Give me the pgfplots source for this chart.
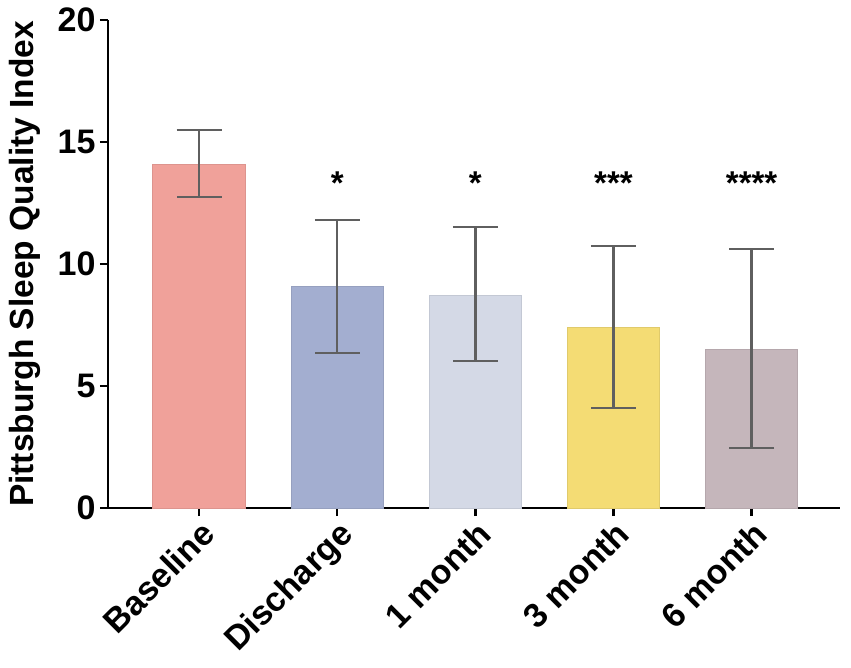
\documentclass[border=0pt]{standalone}
\usepackage{pgfplots}
\pgfplotsset{compat=1.18}
\usepackage{fontspec}
\setmainfont{Liberation Sans}
\definecolor{cBase}{HTML}{F0A19A}
\definecolor{cDis}{HTML}{A3AED0}
\definecolor{cOne}{HTML}{D4D9E6}
\definecolor{cThree}{HTML}{F4DC74}
\definecolor{cSix}{HTML}{C5B6BB}
\definecolor{errc}{HTML}{5F5F5F}
\pgfplotsset{
  mybar/.style={ybar, bar width=0.67, bar shift=0pt, fill=#1, draw=#1!92!black, line width=0.8pt,
    error bars/y dir=both, error bars/y explicit,
    error bars/error bar style={line width=2.3pt, errc},
    error bars/error mark options={rotate=90, mark size=22.5pt, line width=2.3pt, errc}},
}
\begin{document}
\begin{tikzpicture}
\begin{axis}[
  scale only axis,
  width=732pt, height=488pt,
  xmin=-0.66, xmax=4.64,
  ymin=0, ymax=20,
  ytick={0,5,10,15,20},
  xtick={0,1,2,3,4},
  xticklabels={Baseline,Discharge,1 month,3 month,6 month},
  axis x line*=bottom, axis y line*=left,
  axis line style={line width=2.3pt, -},
  tick style={line width=2.3pt, black},
  tick align=outside,
  major tick length=8pt,
  /pgf/number format/assume math mode=true,
  yticklabel style={font=\bfseries\fontsize{34}{34}\selectfont, xshift=-1pt},
  xticklabel style={font=\bfseries\fontsize{34}{34}\selectfont, rotate=45, anchor=north east, inner sep=2pt},
  ylabel={Pittsburgh Sleep Quality Index},
  ylabel style={font=\bfseries\fontsize{33.5}{33.5}\selectfont, at={(axis description cs:0,0.5)}, anchor=center, yshift=83.5pt},
  clip=false,
]
\addplot[mybar=cBase] coordinates {(0,14.08) += (0,1.41) -= (0,1.33)};
\addplot[mybar=cDis] coordinates {(1,9.10) += (0,2.70) -= (0,2.75)};
\addplot[mybar=cOne] coordinates {(2,8.73) += (0,2.79) -= (0,2.71)};
\addplot[mybar=cThree] coordinates {(3,7.42) += (0,3.32) -= (0,3.32)};
\addplot[mybar=cSix] coordinates {(4,6.52) += (0,4.09) -= (0,4.06)};
\addplot[draw=none, mark=none, nodes near coords, point meta=explicit symbolic,
  every node near coord/.style={anchor=base, font=\bfseries\fontsize{33}{33}\selectfont, black}]
  table[meta=lab] {
x y lab
1 12.85 *
2 12.85 *
3 12.85 ***
4 12.85 ****
};
\end{axis}
\pgfresetboundingbox
\path (current axis.south west) ++(-108pt,-159pt) rectangle ++(851pt,667pt);
\end{tikzpicture}
\end{document}
